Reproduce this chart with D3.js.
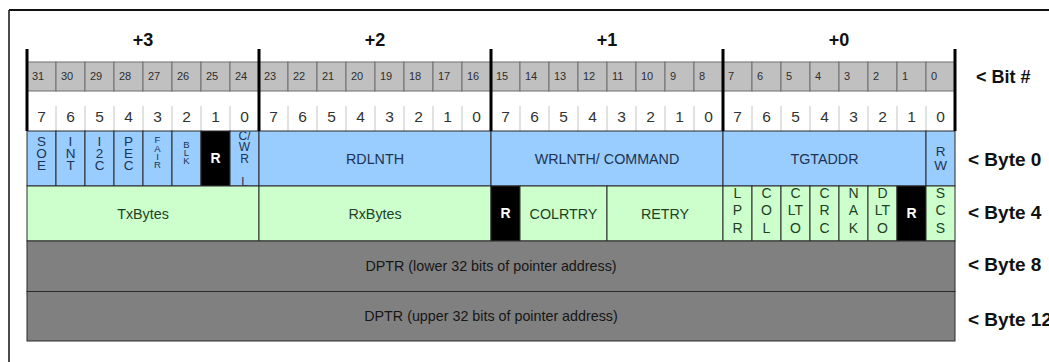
<!DOCTYPE html>
<html>
<head>
<meta charset="utf-8">
<script src="https://cdn.jsdelivr.net/npm/d3@7/dist/d3.min.js"></script>
<style>
  html, body { margin: 0; padding: 0; background: #fff; }
  svg { display: block; font-family: "Liberation Sans", Arial, sans-serif; }
</style>
</head>
<body>
<svg id="chart" width="1049" height="362"></svg>
<script>
// ---------------- data ----------------
const byteOffsets = ["+3", "+2", "+1", "+0"];
const bitNumbers = [31,30,29,28,27,26,25,24,23,22,21,20,19,18,17,16,15,14,13,12,11,10,9,8,7,6,5,4,3,2,1,0];
const byteBitLabels = [7,6,5,4,3,2,1,0];
const headerLabel = "< Bit #";
const rowLabels = ["< Byte 0", "< Byte 4", "< Byte 8", "< Byte 12"];

// [high bit, low bit, label lines, kind]
const byte0Fields = [
  [31,31,["S","O","E"],"v"],
  [30,30,["I","N","T"],"v"],
  [29,29,["I","2","C"],"v"],
  [28,28,["P","E","C"],"v"],
  [27,27,["F","A","I","R"],"vs"],
  [26,26,["B","L","K"],"vs"],
  [25,25,["R"],"res"],
  [24,24,["C/","W","R","","L"],"cw"],
  [23,16,["RDLNTH"],"text"],
  [15,8,["WRLNTH/ COMMAND"],"text"],
  [7,1,["TGTADDR"],"text"],
  [0,0,["R","W"],"rw"]
];
const byte4Fields = [
  [31,24,["TxBytes"],"text"],
  [23,16,["RxBytes"],"text"],
  [15,15,["R"],"res"],
  [14,12,["COLRTRY"],"text"],
  [11,8,["RETRY"],"text"],
  [7,7,["L","P","R"],"v4"],
  [6,6,["C","O","L"],"v4"],
  [5,5,["C","LT","O"],"v4"],
  [4,4,["C","R","C"],"v4"],
  [3,3,["N","A","K"],"v4"],
  [2,2,["D","LT","O"],"v4"],
  [1,1,["R"],"res"],
  [0,0,["S","C","S"],"v4"]
];
const byte8Fields = [[31,0,["DPTR (lower 32 bits of pointer address)"],"text"]];
const byte12Fields = [[31,0,["DPTR (upper 32 bits of pointer address)"],"text"]];
const rows = [byte0Fields, byte4Fields, byte8Fields, byte12Fields];

// ---------------- styles ----------------
const rowFill = ["#99ccff", "#ccffcc", "#808080", "#808080"];
const rowText = ["#1d3354", "#213f25", "#161616", "#161616"];
const kindStyle = {
  text: { size: 14.3, spacing: 0,    dy: 0 },
  v:    { size: 13.5, spacing: 12,   dy: -5 },
  vs:   { size: 9.5,  spacing: 8.3,  dy: -6 },
  cw:   { size: 12,   spacing: 11.5, dy: 0 },
  rw:   { size: 13.5, spacing: 13.5, dy: 0 },
  v4:   { size: 14,   spacing: 17.5, dy: -3 },
  res:  { size: 14,   spacing: 0,    dy: 0 }
};

// ---------------- scales ----------------
const x = d3.scaleLinear().domain([32, 0]).range([27, 955]);
const y = d3.scaleLinear().domain([0, 1, 2, 3, 4]).range([131, 186, 241, 291.5, 341]);

const svg = d3.select("#chart");

// frame
svg.append("line").attr("x1", 9).attr("x2", 1049).attr("y1", 10).attr("y2", 10)
  .attr("stroke", "#111").attr("stroke-width", 2);
svg.append("line").attr("x1", 9).attr("x2", 9).attr("y1", 10).attr("y2", 362)
  .attr("stroke", "#111").attr("stroke-width", 1.5);

// byte offset headers
svg.selectAll("text.off").data(byteOffsets).join("text")
  .attr("class", "off")
  .attr("x", (d, i) => (x(32 - i * 8) + x(24 - i * 8)) / 2)
  .attr("y", 40).attr("dy", "0.35em")
  .attr("text-anchor", "middle")
  .attr("font-size", 18).attr("font-weight", "bold").attr("fill", "#111")
  .text(d => d);

// gray bit number row
const gTop = 62, gBot = 91;
svg.selectAll("rect.bit").data(bitNumbers).join("rect")
  .attr("class", "bit")
  .attr("x", d => x(d + 1)).attr("y", gTop)
  .attr("width", d => x(d) - x(d + 1)).attr("height", gBot - gTop)
  .attr("fill", "#c0c0c0").attr("stroke", "#6e6e6e").attr("stroke-width", 1);
svg.selectAll("text.bit").data(bitNumbers).join("text")
  .attr("class", "bit")
  .attr("x", d => x(d + 1) + 5).attr("y", (gTop + gBot) / 2).attr("dy", "0.35em")
  .attr("font-size", 11).attr("fill", "#2e2e2e")
  .text(d => d);

// byte-relative bit numbers
const byteBits = [];
byteOffsets.forEach((o, i) => byteBitLabels.forEach((b, j) => byteBits.push({ label: b, bit: 31 - i * 8 - j })));
svg.selectAll("text.bb").data(byteBits).join("text")
  .attr("class", "bb")
  .attr("x", d => (x(d.bit + 1) + x(d.bit)) / 2).attr("y", 117).attr("dy", "0.35em")
  .attr("text-anchor", "middle").attr("font-size", 15.5).attr("fill", "#333")
  .text(d => d.label);
svg.selectAll("line.bb").data(byteBits.filter(d => d.bit % 8 !== 7)).join("line")
  .attr("class", "bb")
  .attr("x1", d => x(d.bit + 1)).attr("x2", d => x(d.bit + 1))
  .attr("y1", 106).attr("y2", 131)
  .attr("stroke", "#c4c4c4").attr("stroke-width", 1);

// register rows
const defs = svg.append("defs");
rows.forEach((fields, r) => {
  const g = svg.append("g");
  const y0 = y(r), y1 = y(r + 1);
  fields.forEach((f, k) => {
    const [hi, lo, lines, kind] = f;
    const x0 = x(hi + 1), x1 = x(lo);
    const st = kindStyle[kind];
    const reserved = kind === "res";
    g.append("rect")
      .attr("x", x0).attr("y", y0).attr("width", x1 - x0).attr("height", y1 - y0)
      .attr("fill", reserved ? "#000" : rowFill[r])
      .attr("stroke", "#2a2a2a").attr("stroke-width", 1);
    const cid = "c" + r + "_" + k;
    defs.append("clipPath").attr("id", cid).append("rect")
      .attr("x", x0).attr("y", y0 + 0.5).attr("width", x1 - x0).attr("height", y1 - y0 - 1);
    const cx = (x0 + x1) / 2, cy = (y0 + y1) / 2 + st.dy;
    const n = lines.length;
    g.append("g").attr("clip-path", "url(#" + cid + ")")
      .selectAll("text").data(lines).join("text")
      .attr("x", cx)
      .attr("y", (d, i) => cy + (i - (n - 1) / 2) * st.spacing)
      .attr("dy", "0.35em")
      .attr("text-anchor", "middle")
      .attr("font-size", st.size)
      .attr("font-weight", reserved ? "bold" : "normal")
      .attr("fill", reserved ? "#fff" : rowText[r])
      .text(d => d);
  });
});

// thick byte boundary lines
svg.selectAll("line.byte").data([32, 24, 16, 8, 0]).join("line")
  .attr("class", "byte")
  .attr("x1", d => x(d)).attr("x2", d => x(d))
  .attr("y1", 49).attr("y2", 131)
  .attr("stroke", "#000").attr("stroke-width", 3);

// right-hand labels
svg.append("text").attr("x", 976).attr("y", 77).attr("dy", "0.35em")
  .attr("font-size", 18).attr("font-weight", "bold").attr("fill", "#111")
  .text(headerLabel);
const labelY = [159, 212, 264, 319];
svg.selectAll("text.rl").data(rowLabels).join("text")
  .attr("class", "rl")
  .attr("x", 968).attr("y", (d, i) => labelY[i]).attr("dy", "0.35em")
  .attr("font-size", 19).attr("font-weight", "bold").attr("fill", "#111")
  .text(d => d);
</script>
</body>
</html>
